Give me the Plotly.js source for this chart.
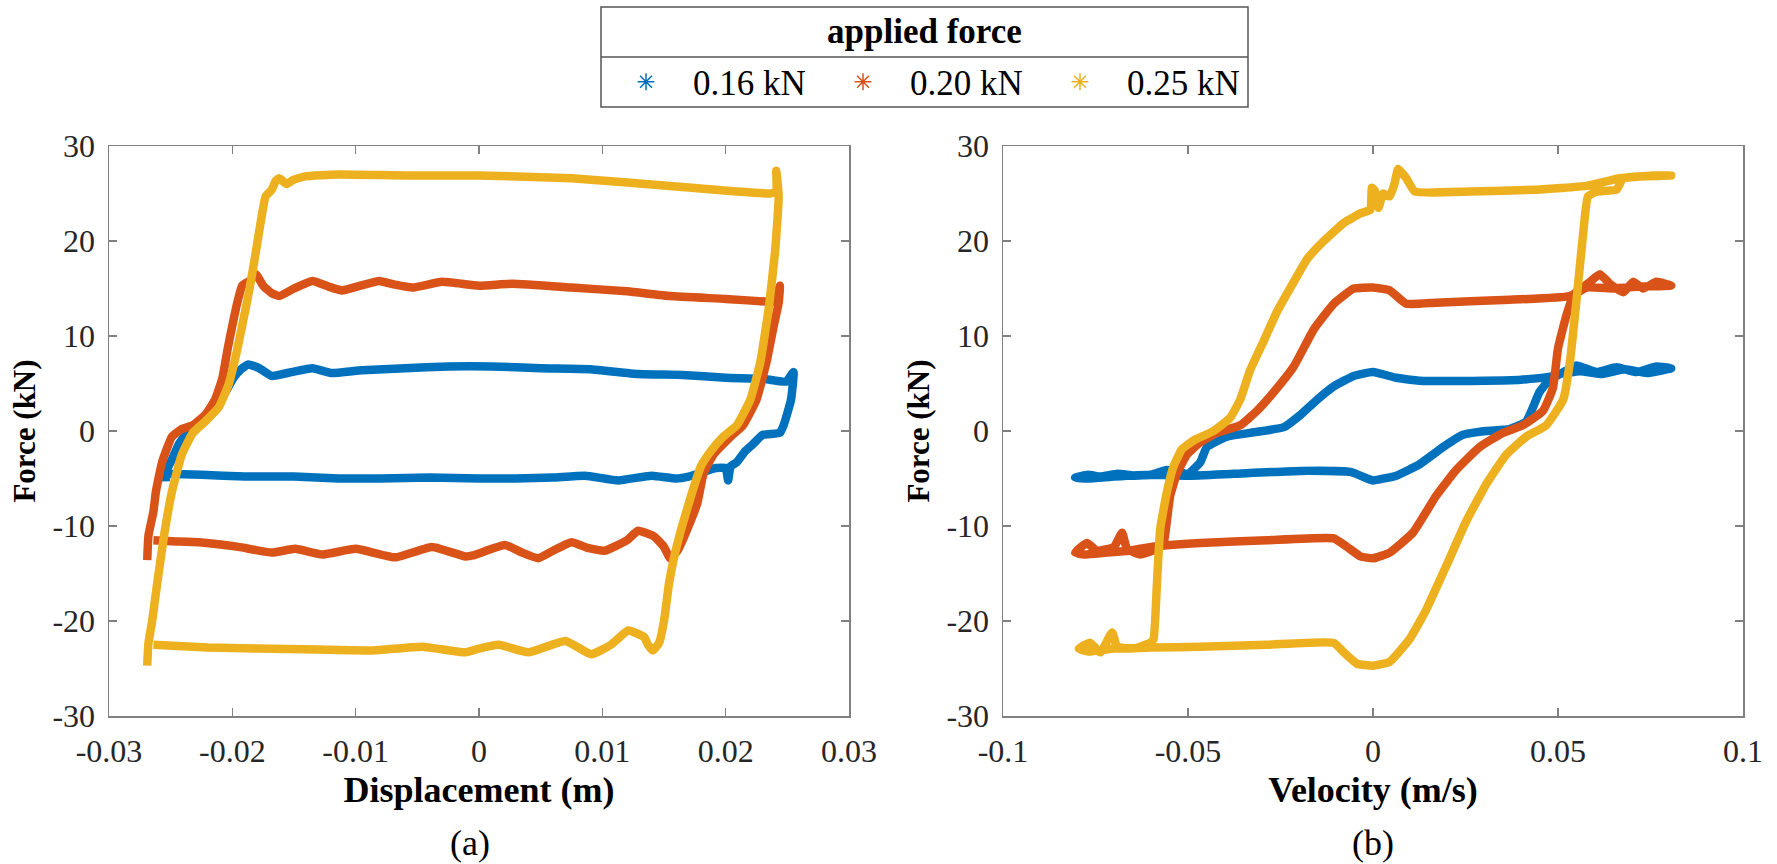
<!DOCTYPE html>
<html>
<head>
<meta charset="utf-8">
<script src="https://cdn.plot.ly/plotly-3.0.1.min.js"></script>
<style>html,body{margin:0;padding:0;background:#fff;}#chart{width:1777px;height:864px;}</style>
</head>
<body>
<div id="chart"></div>
<script>
// ---------- data ----------
const seriesNames = ['0.16 kN', '0.20 kN', '0.25 kN'];
const seriesColors = ['#0072BD', '#D95319', '#EDB120'];
const legendTitle = 'applied force';

// (a) Force vs displacement
const disp016X = [-0.0254,-0.0254,-0.0249,-0.0243,-0.0236,-0.0226,-0.0215,-0.0206,-0.0199,-0.0193,-0.0187,-0.0178,-0.0168,-0.0152,-0.0135,-0.0120,-0.0095,-0.0060,-0.0025,0.0010,0.0050,0.0090,0.0129,0.0165,0.0200,0.0230,0.0249,0.0255,0.0253,0.0247,0.0244,0.0230,0.0222,0.0216,0.0209,0.0204,0.0202,0.0200,0.0192,0.0182,0.0170,0.0160,0.0140,0.0113,0.0086,0.0060,0.0030,0.0000,-0.0040,-0.0080,-0.0114,-0.0150,-0.0190,-0.0225,-0.0254];
const disp016F = [-5.3,-4.4,-3.0,-1.3,-0.2,0.8,2.3,4.0,5.6,6.5,7.0,6.6,5.8,6.2,6.6,6.1,6.4,6.6,6.8,6.8,6.6,6.5,6.0,5.9,5.6,5.5,5.2,6.2,3.3,0.6,-0.2,-0.4,-1.4,-2.1,-3.3,-3.7,-5.2,-3.9,-3.9,-4.3,-4.8,-5.0,-4.7,-5.2,-4.7,-4.9,-5.0,-5.0,-4.9,-5.0,-5.0,-4.8,-4.8,-4.6,-4.5];

const disp020X = [-0.0269,-0.0268,-0.0264,-0.0262,-0.0257,-0.0249,-0.0241,-0.0232,-0.0222,-0.0214,-0.0208,-0.0204,-0.0200,-0.0196,-0.0192,-0.0186,-0.0181,-0.0175,-0.0168,-0.0162,-0.0150,-0.0135,-0.0122,-0.0111,-0.0096,-0.0081,-0.0068,-0.0054,-0.0030,0.0000,0.0027,0.0075,0.0120,0.0155,0.0200,0.0236,0.0240,0.0244,0.0243,0.0239,0.0233,0.0225,0.0214,0.0204,0.0190,0.0182,0.0177,0.0169,0.0161,0.0155,0.0150,0.0142,0.0129,0.0120,0.0102,0.0088,0.0075,0.0060,0.0048,0.0035,0.0021,-0.0005,-0.0011,-0.0038,-0.0068,-0.0100,-0.0127,-0.0149,-0.0168,-0.0195,-0.0227,-0.0249,-0.0264];
const disp020F = [-13.6,-11.0,-8.5,-6.4,-3.3,-0.6,0.2,0.6,1.7,3.3,5.6,8.5,11.1,13.5,15.3,15.8,16.5,15.3,14.5,14.2,15.0,15.8,15.2,14.8,15.3,15.8,15.4,15.1,15.7,15.3,15.5,15.1,14.7,14.2,13.9,13.6,13.6,15.3,13.5,11.1,7.2,3.3,0.6,-0.6,-2.5,-4.5,-7.6,-10.3,-12.6,-13.4,-12.2,-11.1,-10.5,-11.5,-12.6,-12.3,-11.7,-12.6,-13.4,-12.8,-12.0,-13.1,-13.2,-12.2,-13.3,-12.4,-13.0,-12.4,-12.8,-12.2,-11.7,-11.6,-11.5];

const disp025X = [-0.0269,-0.0268,-0.0265,-0.0261,-0.0255,-0.0249,-0.0241,-0.0232,-0.0222,-0.0211,-0.0203,-0.0197,-0.0192,-0.0186,-0.0181,-0.0177,-0.0173,-0.0168,-0.0165,-0.0162,-0.0156,-0.0151,-0.0141,-0.0114,-0.0060,0.0000,0.0075,0.0155,0.0236,0.0241,0.0241,0.0243,0.0240,0.0235,0.0228,0.0220,0.0209,0.0198,0.0188,0.0180,0.0172,0.0164,0.0158,0.0154,0.0150,0.0146,0.0141,0.0137,0.0134,0.0121,0.0107,0.0091,0.0070,0.0040,0.0016,0.0000,-0.0011,-0.0046,-0.0086,-0.0130,-0.0180,-0.0220,-0.0264];
const disp025F = [-24.7,-22.3,-20.0,-16.1,-10.7,-6.4,-2.5,-0.2,1.0,2.5,4.9,8.0,11.1,15.0,18.8,22.0,24.7,25.4,26.3,26.6,26.0,26.4,26.8,27.0,26.9,26.9,26.6,25.8,25.0,25.2,27.4,24.7,18.8,13.0,7.2,3.3,0.6,-0.6,-2.1,-3.7,-6.8,-10.3,-13.4,-16.1,-20.0,-22.3,-23.1,-22.5,-21.7,-21.0,-22.5,-23.5,-22.1,-23.3,-22.5,-22.9,-23.3,-22.7,-23.1,-23.0,-22.9,-22.8,-22.5];

// (b) Force vs velocity
const vel016V = [0.0806,0.0766,0.0712,0.0658,0.0604,0.0550,0.0495,0.0400,0.0300,0.0126,0.0063,0.0000,-0.0052,-0.0106,-0.0151,-0.0196,-0.0241,-0.0332,-0.0395,-0.0449,-0.0467,-0.0500,-0.0557,-0.0600,-0.0647,-0.0690,-0.0737,-0.0770,-0.0805,-0.0770,-0.0700,-0.0600,-0.0503,-0.0377,-0.0196,-0.0061,-0.0016,0.0000,0.0063,0.0126,0.0189,0.0243,0.0306,0.0369,0.0414,0.0450,0.0477,0.0505,0.0560,0.0620,0.0680,0.0740,0.0806];
const vel016F = [6.6,6.8,6.2,6.7,6.2,6.9,5.8,5.4,5.3,5.3,5.6,6.2,5.8,4.7,3.3,1.7,0.4,-0.2,-0.6,-1.7,-3.3,-4.5,-4.1,-4.6,-4.7,-4.5,-4.8,-4.6,-4.9,-5.0,-4.8,-4.6,-4.7,-4.5,-4.2,-4.3,-5.0,-5.2,-4.7,-3.5,-1.7,-0.4,0.0,0.2,1.0,4.1,5.4,6.0,6.3,6.0,6.5,6.1,6.6];

const vel020V = [0.0806,0.0766,0.0730,0.0703,0.0676,0.0640,0.0613,0.0586,0.0532,0.0351,0.0171,0.0090,0.0045,0.0000,-0.0052,-0.0106,-0.0160,-0.0214,-0.0268,-0.0314,-0.0359,-0.0422,-0.0467,-0.0503,-0.0530,-0.0548,-0.0561,-0.0566,-0.0584,-0.0629,-0.0665,-0.0678,-0.0700,-0.0746,-0.0773,-0.0805,-0.0780,-0.0720,-0.0660,-0.0600,-0.0467,-0.0286,-0.0106,-0.0070,-0.0034,0.0000,0.0045,0.0108,0.0171,0.0225,0.0288,0.0351,0.0405,0.0459,0.0486,0.0500,0.0523,0.0541,0.0577,0.0650,0.0720,0.0806];
const vel020F = [15.3,15.7,15.0,15.7,14.6,15.5,16.5,15.7,14.2,13.8,13.5,13.4,14.8,15.1,15.0,13.4,10.7,6.8,4.1,2.1,0.6,-0.2,-1.2,-2.5,-4.5,-6.8,-10.7,-11.8,-12.4,-13.0,-12.4,-10.7,-12.2,-12.6,-11.8,-12.8,-13.0,-12.8,-12.6,-12.2,-11.8,-11.5,-11.3,-12.2,-13.2,-13.4,-12.8,-10.7,-6.8,-4.1,-1.7,-0.2,0.6,2.1,4.5,8.7,12.2,14.2,15.1,15.0,15.2,15.3];

const vel025V = [0.0806,0.0757,0.0667,0.0577,0.0441,0.0261,0.0113,0.0090,0.0068,0.0058,0.0045,0.0027,0.0015,0.0005,-0.0003,-0.0007,-0.0034,-0.0079,-0.0133,-0.0178,-0.0214,-0.0259,-0.0295,-0.0332,-0.0359,-0.0386,-0.0431,-0.0485,-0.0516,-0.0539,-0.0557,-0.0575,-0.0584,-0.0593,-0.0602,-0.0647,-0.0692,-0.0705,-0.0737,-0.0764,-0.0795,-0.0770,-0.0700,-0.0600,-0.0467,-0.0286,-0.0106,-0.0079,-0.0043,0.0000,0.0045,0.0099,0.0144,0.0198,0.0252,0.0306,0.0360,0.0414,0.0468,0.0514,0.0532,0.0550,0.0568,0.0581,0.0604,0.0658,0.0676,0.0720,0.0806];
const vel025F = [26.9,26.9,26.6,25.8,25.4,25.2,25.2,26.6,27.6,26.0,24.7,25.0,23.5,25.3,25.6,23.3,22.9,21.9,20.0,18.1,15.7,12.6,9.5,6.4,3.3,1.4,0.0,-1.0,-1.9,-3.7,-6.4,-10.3,-16.1,-21.9,-22.3,-22.9,-22.7,-21.2,-23.3,-22.3,-22.9,-23.2,-22.9,-22.8,-22.7,-22.5,-22.3,-23.3,-24.5,-24.7,-24.3,-21.9,-18.8,-14.2,-9.5,-5.6,-2.5,-0.6,0.6,3.3,7.2,13.8,20.8,24.7,25.2,25.4,26.6,26.8,26.9];

// tick values and labels
const forceTicks = [-30,-20,-10,0,10,20,30];
const forceTickLabels = ['-30','-20','-10','0','10','20','30'];
const dispTicks = [-0.03,-0.02,-0.01,0,0.01,0.02,0.03];
const dispTickLabels = ['-0.03','-0.02','-0.01','0','0.01','0.02','0.03'];
const velTicks = [-0.1,-0.05,0,0.05,0.1];
const velTickLabels = ['-0.1','-0.05','0','0.05','0.1'];

// ---------- figure ----------
const W = 1777, H = 864;
const FONT = 'Liberation Serif, Times New Roman, serif';
const px = v => v / W;
const py = v => 1 - v / H;

const dispData = [[disp016X, disp016F], [disp020X, disp020F], [disp025X, disp025F]];
const velData = [[vel016V, vel016F], [vel020V, vel020F], [vel025V, vel025F]];

const traces = [];
dispData.forEach((d, i) => traces.push({
  x: d[0], y: d[1], xaxis: 'x', yaxis: 'y', mode: 'lines', type: 'scatter',
  line: {color: seriesColors[i], width: 8.5, shape: 'spline', smoothing: 0.4}, showlegend: false, name: seriesNames[i]
}));
velData.forEach((d, i) => traces.push({
  x: d[0], y: d[1], xaxis: 'x2', yaxis: 'y2', mode: 'lines', type: 'scatter',
  line: {color: seriesColors[i], width: 8.5, shape: 'spline', smoothing: 0.4}, showlegend: false, name: seriesNames[i]
}));
seriesNames.forEach((n, i) => traces.push({
  x: [null], y: [null], xaxis: 'x', yaxis: 'y', mode: 'markers', type: 'scatter', name: n,
  marker: {symbol: 'asterisk-open', size: 14, color: seriesColors[i], line: {color: seriesColors[i], width: 1.5}}
}));

const axisCommon = {
  showline: true, linecolor: '#808080', linewidth: 1.5, mirror: 'ticks',
  ticks: 'inside', ticklen: 8, tickwidth: 1.5, tickcolor: '#808080',
  showgrid: false, zeroline: false,
  tickfont: {family: FONT, size: 32, color: '#262626'}
};
const titleFontX = {family: FONT, size: 36, color: '#000', weight: 'bold'};
const titleFontY = {family: FONT, size: 31, color: '#000', weight: 'bold'};

const layout = {
  width: W, height: H,
  margin: {l: 0, r: 0, t: 0, b: 0},
  paper_bgcolor: '#fff', plot_bgcolor: '#fff',
  font: {family: FONT, color: '#262626'},
  xaxis: Object.assign({}, axisCommon, {
    domain: [px(109), px(849)], range: [-0.03, 0.03], tickvals: dispTicks, ticktext: dispTickLabels,
    anchor: 'y', ticklabelstandoff: 6,
    title: {text: 'Displacement (m)', font: titleFontX, standoff: 9}
  }),
  yaxis: Object.assign({}, axisCommon, {
    domain: [1 - 716 / H, 1 - 146 / H], range: [-30, 30], tickvals: forceTicks, ticktext: forceTickLabels,
    anchor: 'x', ticklabelstandoff: 6,
    title: {text: 'Force (kN)', font: titleFontY, standoff: 7}
  }),
  xaxis2: Object.assign({}, axisCommon, {
    domain: [px(1003), px(1743)], range: [-0.1, 0.1], tickvals: velTicks, ticktext: velTickLabels,
    anchor: 'y2', ticklabelstandoff: 6,
    title: {text: 'Velocity (m/s)', font: titleFontX, standoff: 9}
  }),
  yaxis2: Object.assign({}, axisCommon, {
    domain: [1 - 716 / H, 1 - 146 / H], range: [-30, 30], tickvals: forceTicks, ticktext: forceTickLabels,
    anchor: 'x2', ticklabelstandoff: 6,
    title: {text: 'Force (kN)', font: titleFontY, standoff: 7}
  }),
  showlegend: true,
  legend: {
    orientation: 'h', x: px(599), xanchor: 'left', y: py(82), yanchor: 'middle',
    bgcolor: 'rgba(0,0,0,0)', borderwidth: 0,
    font: {family: FONT, size: 35, color: '#000'},
    itemwidth: 84, entrywidth: 118, entrywidthmode: 'pixels',
    itemclick: false, itemdoubleclick: false
  },
  shapes: [
    {type: 'rect', xref: 'paper', yref: 'paper', x0: px(601), x1: px(1248), y0: py(107), y1: py(7),
     line: {color: '#555', width: 1.5}, fillcolor: 'rgba(0,0,0,0)', layer: 'below'},
    {type: 'line', xref: 'paper', yref: 'paper', x0: px(601), x1: px(1248), y0: py(57), y1: py(57),
     line: {color: '#555', width: 1.5}}
  ],
  annotations: [
    {text: legendTitle, xref: 'paper', yref: 'paper', x: px(924.5), y: py(32), xanchor: 'center', yanchor: 'middle',
     showarrow: false, font: {family: FONT, size: 35, color: '#000', weight: 'bold'}},
    {text: '(a)', xref: 'paper', yref: 'paper', x: px(470), y: py(843), xanchor: 'center', yanchor: 'middle',
     showarrow: false, font: {family: FONT, size: 36, color: '#000'}},
    {text: '(b)', xref: 'paper', yref: 'paper', x: px(1373), y: py(843), xanchor: 'center', yanchor: 'middle',
     showarrow: false, font: {family: FONT, size: 36, color: '#000'}}
  ]
};

Plotly.newPlot('chart', traces, layout, {staticPlot: true, displayModeBar: false});
</script>
</body>
</html>
